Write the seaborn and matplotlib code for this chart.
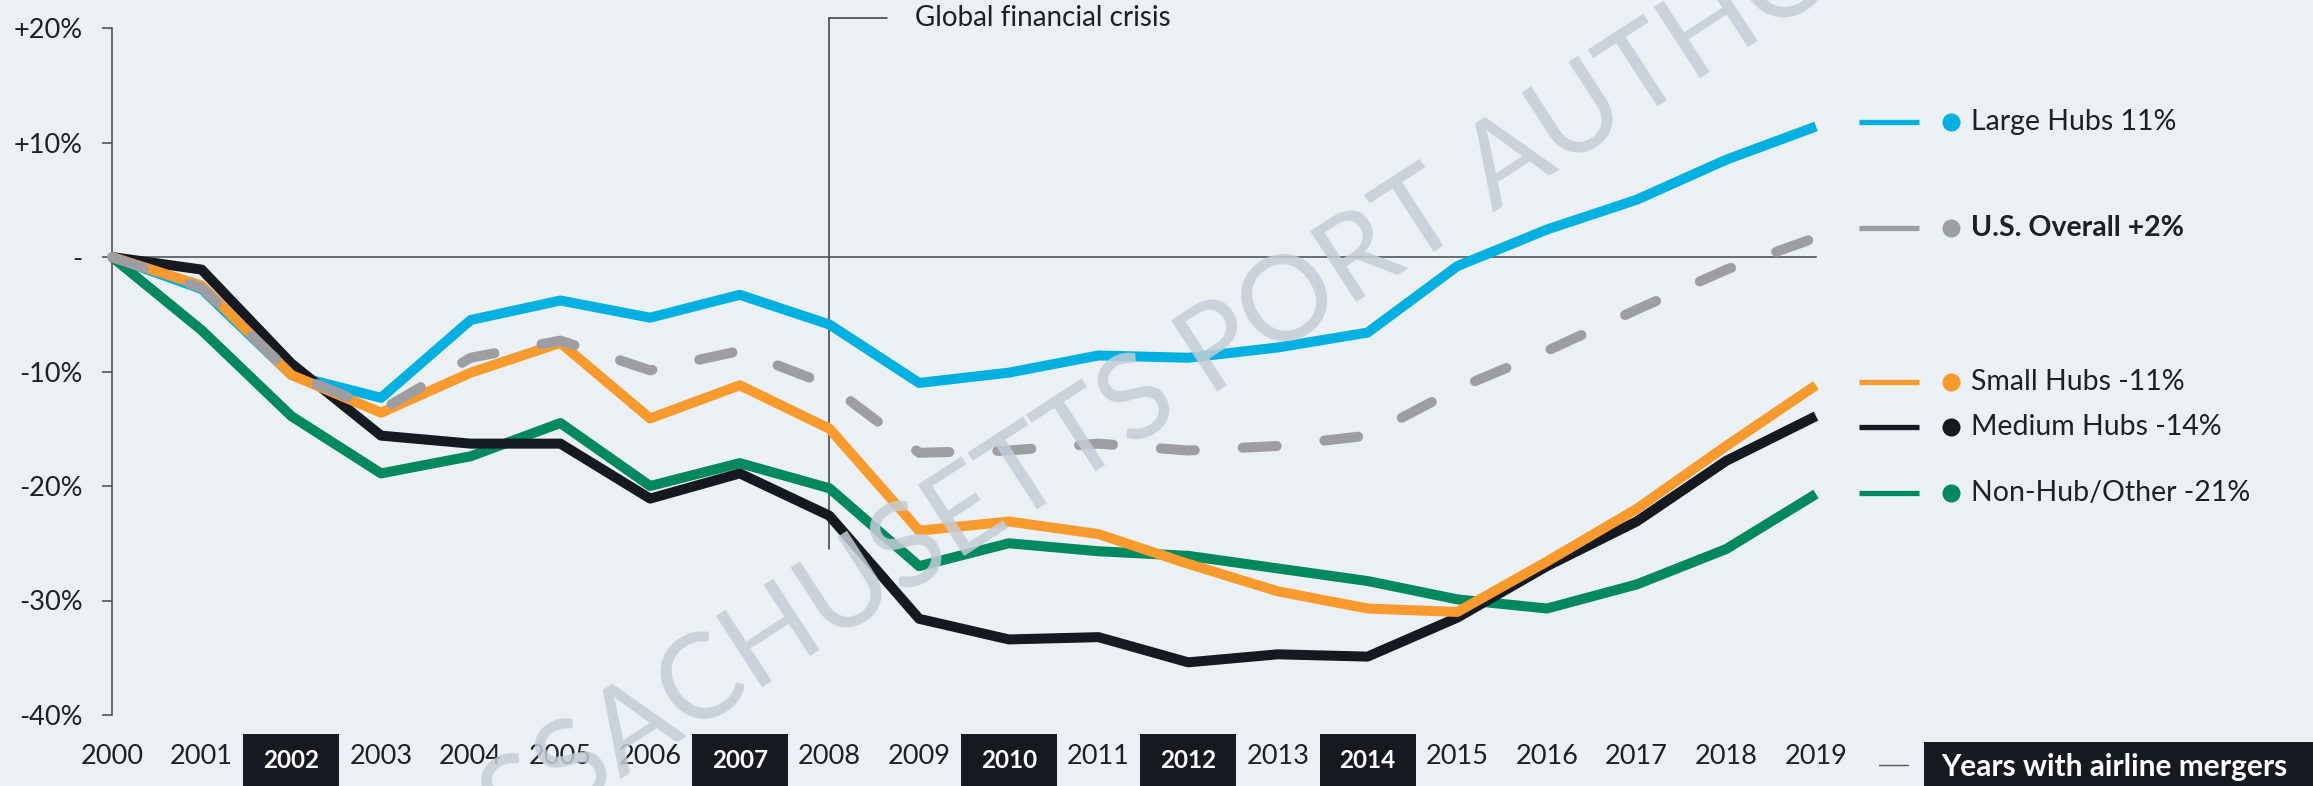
import numpy as np
import pandas as pd
import seaborn as sns
import matplotlib.pyplot as plt
from matplotlib.lines import Line2D
from matplotlib.patches import Rectangle
from matplotlib.transforms import blended_transform_factory

# --- data (percent change in domestic seats vs 2000) ---
years = list(range(2000, 2020))
large_hubs = [0, -2.8, -10.3, -12.3, -5.5, -3.8, -5.3, -3.3, -5.9, -11.0,
              -10.1, -8.6, -8.8, -7.9, -6.6, -0.8, 2.4, 5.0, 8.5, 11.4]
us_overall = [0, -2.7, -10.2, -13.4, -8.8, -7.3, -9.9, -8.2, -11.2, -17.1,
              -16.9, -16.3, -16.9, -16.5, -15.6, -11.5, -8.2, -4.6, -1.1, 1.7]
small_hubs = [0, -2.5, -10.3, -13.6, -10.1, -7.5, -14.1, -11.2, -15.0, -23.9,
              -23.1, -24.2, -26.8, -29.2, -30.7, -31.0, -26.6, -22.0, -16.5, -11.2]
medium_hubs = [0, -1.1, -9.3, -15.6, -16.3, -16.3, -21.1, -18.9, -22.6, -31.6,
               -33.4, -33.2, -35.4, -34.7, -34.9, -31.5, -27.0, -23.1, -17.8, -13.9]
non_hub = [0, -6.4, -13.9, -18.9, -17.4, -14.5, -20.0, -18.0, -20.2, -27.0,
           -25.0, -25.7, -26.1, -27.2, -28.3, -29.9, -30.7, -28.6, -25.5, -20.7]

series_names = ["Large Hubs", "U.S. Overall", "Small Hubs", "Medium Hubs", "Non-Hub/Other"]
legend_labels = ["Large Hubs 11%", "U.S. Overall +2%", "Small Hubs -11%",
                 "Medium Hubs -14%", "Non-Hub/Other -21%"]
colors = ["#00b0e0", "#9e9da2", "#f89a2e", "#161a20", "#00895c"]
draw_order = ["Large Hubs", "Non-Hub/Other", "Medium Hubs", "Small Hubs", "U.S. Overall"]

merger_years = [2002, 2007, 2010, 2012, 2014]
crisis_year = 2008
yticks = [20, 10, 0, -10, -20, -30, -40]
ytick_labels = ["+20%", "+10%", "-", "-10%", "-20%", "-30%", "-40%"]

df = pd.DataFrame({
    "year": years * 5,
    "change": large_hubs + us_overall + small_hubs + medium_hubs + non_hub,
    "series": np.repeat(series_names, len(years)),
})

BG = "#eaf0f3"
TXT = "#1d2126"
AX = "#45484c"
W, H = 2313, 786

sns.set_theme(style="white")
plt.rcParams["font.family"] = ["Lato", "DejaVu Sans"]

fig = plt.figure(figsize=(W / 100, H / 100), dpi=100, facecolor=BG)
ax = fig.add_axes([112 / W, 1 - 715 / H, (1816 - 112) / W, (715 - 28) / H])
ax.set_facecolor(BG)


def fx(px):
    return px / W


def fy(py):
    return 1 - py / H


cmap = dict(zip(series_names, colors))
for i, name in enumerate(draw_order):
    sub = df[df["series"] == name]
    sns.lineplot(data=sub, x="year", y="change", color=cmap[name], linewidth=7.2,
                 ax=ax, legend=False, zorder=3 + i)
    line = ax.lines[-1]
    line.set_clip_on(False)
    line.set_solid_joinstyle("round")
    if name == "U.S. Overall":
        line.set_dashes((3.4, 4.8))
        line.set_dash_capstyle("round")
    else:
        line.set_solid_capstyle("butt")

ax.set_xlim(2000, 2019)
ax.set_ylim(-40, 20)

# axes styling: left spine + zero line with downward year ticks
for s in ["top", "right"]:
    ax.spines[s].set_visible(False)
ax.spines["left"].set_color(AX)
ax.spines["left"].set_linewidth(1.1)
ax.spines["bottom"].set_position(("data", 0))
ax.spines["bottom"].set_color(AX)
ax.spines["bottom"].set_linewidth(1.1)
ax.spines["bottom"].set_zorder(2)

ax.set_yticks(yticks)
ax.set_yticklabels(ytick_labels)
ax.set_xticks(years)
ax.tick_params(axis="x", direction="out", length=7.2, width=1.1, color=AX, labelbottom=False)
ax.tick_params(axis="y", direction="out", length=7.2, width=1.1, color=AX,
               pad=14, labelsize=19.5, labelcolor=TXT, left=True)
ax.set_xlabel("")
ax.set_ylabel("")
ax.grid(False)

# year labels, merger years boxed
bt = blended_transform_factory(ax.transData, fig.transFigure)
for yr in years:
    if yr in merger_years:
        fig.add_artist(Rectangle((yr - 0.535, 0), 1.07, fy(734), transform=bt,
                                 facecolor="#161a20", edgecolor="none", zorder=4))
        fig.text(yr, fy(760), str(yr), transform=bt, ha="center", va="center",
                 fontsize=17.5, fontweight="bold", color="white", zorder=6)
    else:
        fig.text(yr, fy(756), str(yr), transform=bt, ha="center", va="center",
                 fontsize=19.5, color=TXT, zorder=6)

# merger key
fig.add_artist(Line2D([fx(1879), fx(1908)], [fy(765), fy(765)], color="#555", lw=1.0))
fig.add_artist(Rectangle((fx(1924), 0), 1 - fx(1924), fy(742), transform=fig.transFigure,
                         facecolor="#161a20", edgecolor="none", zorder=4))
fig.text(fx(1941), fy(767), "Years with airline mergers", ha="left", va="center",
         fontsize=21.5, fontweight="bold", color="white", zorder=6)

# global financial crisis marker
ax.plot([crisis_year, crisis_year], [-25.5, 20.85], color="#3a3d41", lw=1.1,
        clip_on=False, zorder=2)
ax.plot([crisis_year, crisis_year + 0.64], [20.85, 20.85], color="#3a3d41", lw=1.1,
        clip_on=False, zorder=2)
ax.text(crisis_year + 0.95, 20.85, "Global financial crisis", ha="left", va="center",
        fontsize=20, color=TXT)

# legend on the right
legend_rows = [122, 228, 382, 427, 493]
for name, lab, py in zip(series_names, legend_labels, legend_rows):
    c = cmap[name]
    fig.add_artist(Line2D([fx(1859), fx(1919)], [fy(py), fy(py)], color=c, lw=3.8,
                          solid_capstyle="butt"))
    fig.add_artist(Line2D([fx(1951)], [fy(py)], marker="o", markersize=13, color=c,
                          markeredgewidth=0))
    fig.text(fx(1971), fy(py), lab, ha="left", va="center", fontsize=20.5, color=TXT,
             fontweight="bold" if name == "U.S. Overall" else "normal")

# watermark
fig.text(fx(1205), fy(400), "MASSACHUSETTS PORT AUTHORITY", rotation=33,
         rotation_mode="anchor", ha="center", va="baseline", fontsize=85,
         color="#c4cdd7", alpha=0.85, zorder=20)

fig.savefig("out.png", dpi=100, facecolor=BG)
